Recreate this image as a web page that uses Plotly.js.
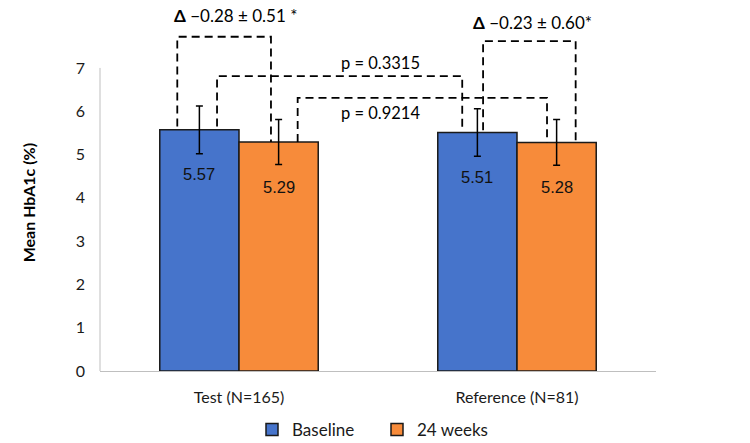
<!DOCTYPE html>
<html>
<head>
<meta charset="utf-8">
<script src="https://cdn.plot.ly/plotly-3.0.1.min.js"></script>
<style>html,body{margin:0;padding:0;background:#fff;}#chart{width:750px;height:443px;}</style>
</head>
<body>
<div id="chart"></div>
<script>
// ---- data ----
var categories = ["Test (N=165)", "Reference (N=81)"];
var seriesNames = ["Baseline", "24 weeks"];
var baselineMean = [5.57, 5.51];
var week24Mean = [5.29, 5.28];
var baselineSD = [0.55, 0.55];
var week24SD = [0.52, 0.53];
var yTicks = [0, 1, 2, 3, 4, 5, 6, 7];
var deltaLabels = ["<b>Δ</b> \u22120.28 ± 0.51 *", "<b>Δ</b> \u22120.23 ± 0.60*"];
var pLabels = ["p = 0.3315", "p = 0.9214"];

var yMax = 8.5;
var colBase = "#4674CB";
var col24 = "#F78B3A";
var offset = 0.1434; // half bar width in category units

var traces = [
  {type: "bar", name: seriesNames[0], x: [0, 1], y: baselineMean,
   marker: {color: colBase, line: {color: "#1a1a1a", width: 1.5}},
   error_y: {type: "data", array: baselineSD, visible: true, color: "#000", thickness: 1.5, width: 3.5},
   hoverinfo: "skip"},
  {type: "bar", name: seriesNames[1], x: [0, 1], y: week24Mean,
   marker: {color: col24, line: {color: "#1a1a1a", width: 1.5}},
   error_y: {type: "data", array: week24SD, visible: true, color: "#000", thickness: 1.5, width: 3.5},
   hoverinfo: "skip"}
];

var annotations = [];
var valFont = {family: "Liberation Sans, Arial", size: 16.5, color: "#111"};
for (var i = 0; i < categories.length; i++) {
  annotations.push({x: i - offset, y: baselineMean[i] - 1.03, xref: "x", yref: "y", text: baselineMean[i].toFixed(2), showarrow: false, font: valFont});
  annotations.push({x: i + offset, y: week24Mean[i] - 1.03, xref: "x", yref: "y", text: week24Mean[i].toFixed(2), showarrow: false, font: valFont});
}
var annFont = {family: "Lato, Open Sans", size: 17, color: "#000"};
var pFont = {family: "Lato, Open Sans", size: 16.5, color: "#000"};
annotations.push({x: -0.011, y: 8.22, xref: "x", yref: "y", text: deltaLabels[0], showarrow: false, font: annFont});
annotations.push({x: 1.054, y: 8.06, xref: "x", yref: "y", text: deltaLabels[1], showarrow: false, font: annFont});
annotations.push({x: 0.509, y: 7.11, xref: "x", yref: "y", text: pLabels[0], showarrow: false, font: pFont});
annotations.push({x: 0.509, y: 5.96, xref: "x", yref: "y", text: pLabels[1], showarrow: false, font: pFont});
annotations.push({x: -0.129, xref: "paper", xanchor: "center", y: 3.88, yref: "y", yanchor: "middle", text: "<b>Mean HbA1c (%)</b>", textangle: -90, showarrow: false, font: {family: "Lato, Open Sans", size: 16, color: "#000"}});

// brackets: [xLeft, xRight, yTop, yLeftBottom, yRightBottom]
var bracketTops = [7.72, 6.81, 6.31, 7.62];
var brackets = [
  [-0.222, 0.115, bracketTops[0], baselineMean[0] + 0.08, week24Mean[0]],
  [-0.079, 0.803, bracketTops[1], baselineMean[0] + 0.08, baselineMean[1] + 0.06],
  [0.211, 1.108, bracketTops[2], week24Mean[0], week24Mean[1]],
  [0.878, 1.211, bracketTops[3], baselineMean[1] + 0.05, week24Mean[1]]
];
var shapes = [];
var dashLine = {color: "#000", width: 1.8, dash: "8px,5px"};
brackets.forEach(function (b) {
  shapes.push({type: "path", xref: "x", yref: "y",
    path: "M" + b[0] + "," + b[3] + " L" + b[0] + "," + b[2] + " L" + b[1] + "," + b[2] + " L" + b[1] + "," + b[4],
    line: dashLine});
});
// y axis line from 0 to 7
shapes.push({type: "line", xref: "paper", yref: "paper", x0: 0, x1: 0, y0: 0, y1: 7 / yMax, line: {color: "#BFBFBF", width: 1}});

var tickFont = {family: "Lato, Open Sans", size: 16, color: "#1a1a1a"};
var layout = {
  width: 750, height: 443,
  margin: {l: 100, r: 93.5, t: 3, b: 72, autoexpand: false},
  paper_bgcolor: "#fff", plot_bgcolor: "#fff",
  barmode: "group", bargap: 0.43, bargroupgap: 0,
  font: {family: "Lato, Open Sans", size: 16, color: "#1a1a1a"},
  xaxis: {type: "linear", range: [-0.5, 1.5], tickvals: [0, 1], ticktext: categories,
          showline: true, linecolor: "#BFBFBF", linewidth: 1, showgrid: false, zeroline: false,
          ticks: "", ticklabelstandoff: 12, tickfont: tickFont},
  yaxis: {range: [0, yMax], tickvals: yTicks, showline: false, showgrid: false, zeroline: false,
          ticks: "", ticklabelstandoff: 14, tickfont: tickFont},
  showlegend: true,
  legend: {orientation: "h", x: 252 / 750, xref: "container", xanchor: "left", y: -0.16, yanchor: "middle",
           entrywidth: 80, entrywidthmode: "pixels",
           font: {family: "Lato, Open Sans", size: 17, color: "#1a1a1a"}, traceorder: "normal"},
  annotations: annotations,
  shapes: shapes
};

Plotly.newPlot("chart", traces, layout, {staticPlot: true});
</script>
</body>
</html>
